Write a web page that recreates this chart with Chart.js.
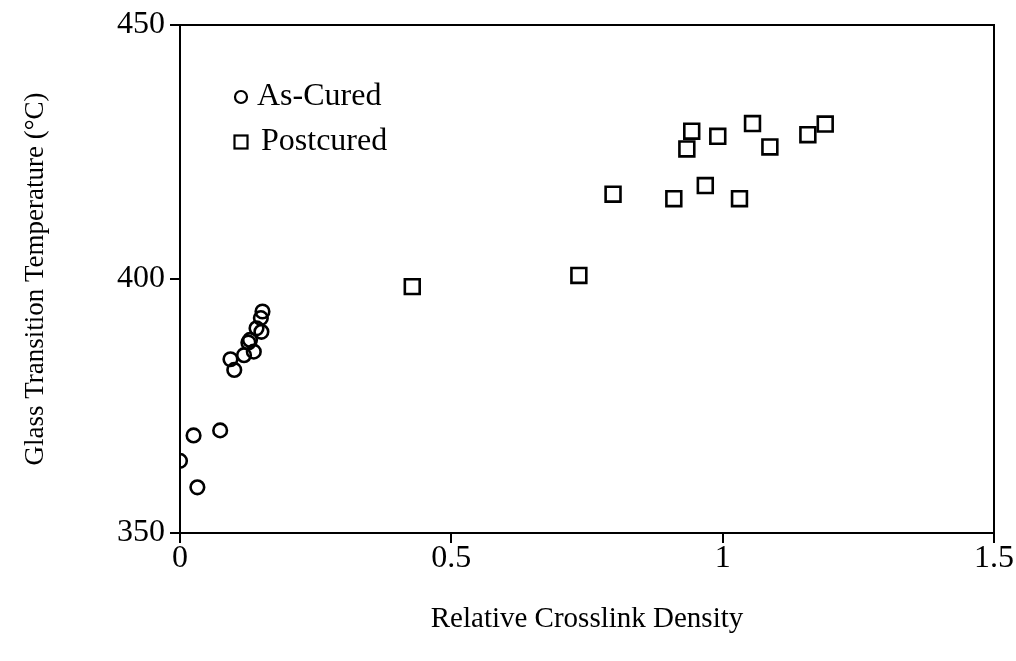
<!DOCTYPE html>
<html>
<head>
<meta charset="utf-8">
<script src="https://cdn.jsdelivr.net/npm/chart.js@4/dist/chart.umd.min.js"></script>
<style>
    html, body { margin: 0; padding: 0; background: #fff; }
    #wrap { width: 1016px; height: 661px; }
</style>
</head>
<body>
<div id="wrap"><canvas id="tgChart" width="1016" height="661"></canvas></div>
<script>
// =========================
// DATA
// =========================
const asCuredX = [0, 0.025, 0.032, 0.074, 0.093, 0.100, 0.118, 0.126, 0.129, 0.136, 0.141, 0.150, 0.149, 0.152];
const asCuredY = [364.2, 369.2, 359.0, 370.2, 384.2, 382.1, 385.0, 387.5, 388.0, 385.7, 390.3, 389.6, 392.3, 393.6];

const postcuredX = [0.428, 0.735, 0.798, 0.910, 0.934, 0.943, 0.968, 0.991, 1.031, 1.055, 1.087, 1.157, 1.189];
const postcuredY = [398.5, 400.7, 416.7, 415.8, 425.6, 429.1, 418.4, 428.1, 415.8, 430.6, 426.0, 428.4, 430.5];

const xTickValues = [0, 0.5, 1, 1.5];
const xTickLabels = ['0', '0.5', '1', '1.5'];
const yTickValues = [350, 400, 450];

const seriesNames = ['As-Cured', 'Postcured'];

const FONT = "'Liberation Serif', 'Times New Roman', serif";

function toPoints(xs, ys) {
    return xs.map((x, i) => ({ x: x, y: ys[i] }));
}

// =========================
// PLUGINS
// =========================
const framePlugin = {
    id: 'frame',
    afterDraw(chart) {
        const { ctx, chartArea: a } = chart;
        ctx.save();
        ctx.strokeStyle = '#000';
        ctx.lineWidth = 2;
        ctx.strokeRect(a.left, a.top, a.right - a.left, a.bottom - a.top);
        ctx.restore();
    }
};

const legendPlugin = {
    id: 'innerLegend',
    afterDraw(chart) {
        const { ctx, chartArea: a } = chart;
        const x = a.left + 61;
        const y1 = a.top + 72;
        const y2 = a.top + 117;
        ctx.save();
        ctx.strokeStyle = '#000';
        ctx.lineWidth = 2.2;
        ctx.beginPath();
        ctx.arc(x, y1, 6, 0, Math.PI * 2);
        ctx.stroke();
        ctx.strokeRect(x - 6.5, y2 - 6.5, 13, 13);
        ctx.fillStyle = '#000';
        ctx.font = '32px ' + FONT;
        ctx.textBaseline = 'middle';
        ctx.textAlign = 'left';
        ctx.fillText(seriesNames[0], x + 16, y1);
        ctx.fillText(seriesNames[1], x + 20, y2);
        ctx.restore();
    }
};

// =========================
// CHART
// =========================
const ctx = document.getElementById('tgChart').getContext('2d');

new Chart(ctx, {
    type: 'scatter',
    data: {
        datasets: [
            {
                label: seriesNames[0],
                data: toPoints(asCuredX, asCuredY),
                pointStyle: 'circle',
                pointRadius: 6.8,
                pointBorderWidth: 2.6,
                borderColor: '#000',
                backgroundColor: 'rgba(255,255,255,0)'
            },
            {
                label: seriesNames[1],
                data: toPoints(postcuredX, postcuredY),
                pointStyle: 'rect',
                pointRadius: 10.5,
                pointBorderWidth: 2.6,
                borderColor: '#000',
                backgroundColor: 'rgba(255,255,255,0)'
            }
        ]
    },
    options: {
        responsive: false,
        animation: false,
        devicePixelRatio: 1,
        layout: { padding: { top: 25, right: 22, left: 0, bottom: 0 } },
        plugins: {
            legend: { display: false },
            tooltip: { enabled: false }
        },
        scales: {
            x: {
                type: 'linear',
                min: 0,
                max: 1.5,
                afterBuildTicks(scale) {
                    scale.ticks = xTickValues.map(v => ({ value: v }));
                },
                afterFit(scale) { scale.height = 128; },
                ticks: {
                    color: '#000',
                    font: { family: FONT, size: 32, lineHeight: 1 },
                    padding: 0,
                    maxRotation: 0,
                    callback: (v) => xTickLabels[xTickValues.indexOf(v)]
                },
                grid: {
                    drawOnChartArea: false,
                    drawTicks: true,
                    tickLength: 10,
                    color: '#000',
                    lineWidth: 2
                },
                border: { display: true, color: '#000', width: 2 },
                title: {
                    display: true,
                    text: 'Relative Crosslink Density',
                    color: '#000',
                    font: { family: FONT, size: 29 },
                    padding: { top: 0, bottom: 24 }
                }
            },
            y: {
                type: 'linear',
                min: 350,
                max: 450,
                afterBuildTicks(scale) {
                    scale.ticks = yTickValues.map(v => ({ value: v }));
                },
                afterFit(scale) { scale.width = 180; },
                ticks: {
                    color: '#000',
                    font: { family: FONT, size: 32 },
                    padding: 5
                },
                grid: {
                    drawOnChartArea: false,
                    drawTicks: true,
                    tickLength: 10,
                    color: '#000',
                    lineWidth: 2
                },
                border: { display: true, color: '#000', width: 2 },
                title: {
                    display: true,
                    text: 'Glass Transition Temperature (°C)',
                    color: '#000',
                    font: { family: FONT, size: 27 },
                    padding: { top: 20, bottom: 0 }
                }
            }
        }
    },
    plugins: [framePlugin, legendPlugin]
});
</script>
</body>
</html>
